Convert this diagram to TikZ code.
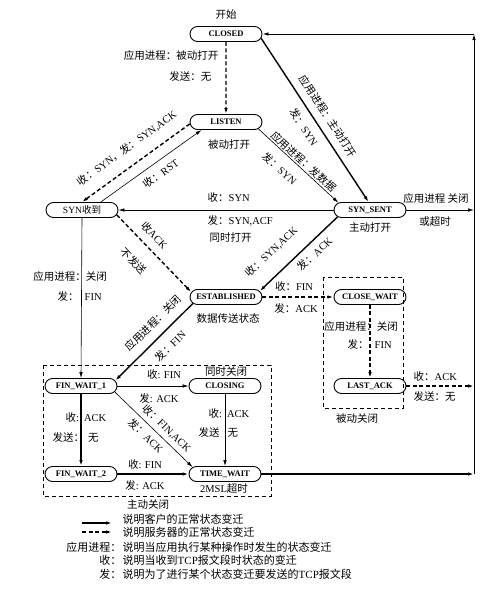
\documentclass[tikz,border=0pt]{standalone}
\usepackage{fontspec}
\setmainfont{Liberation Serif}
\newfontfamily\cjk{Noto Sans CJK SC}
\usetikzlibrary{shapes.misc,arrows.meta}
\newcommand\zh[1]{{\cjk #1}}
\begin{document}
\begin{tikzpicture}[x=1pt,y=-1pt,
  st/.style={draw, rounded rectangle, minimum width=64pt, minimum height=15pt, inner xsep=-4pt, inner ysep=1pt, line width=0.9pt, font=\bfseries\fontsize{8.5}{9}\selectfont},
  lbl/.style={font=\fontsize{10.5}{12}\selectfont, inner sep=0.5pt},
  lg/.style={font=\fontsize{11}{13}\selectfont, inner sep=0.5pt},
  tip/.style={-{Latex[length=6pt,width=3.5pt]}},
  thinl/.style={tip, line width=0.6pt},
  thickl/.style={tip, line width=1.4pt},
  dashl/.style={tip, line width=1.4pt, dash pattern=on 4pt off 2.5pt},
  dbox/.style={draw, line width=0.8pt, dash pattern=on 4pt off 3pt},
]
\useasboundingbox (0,0) rectangle (500,597);
\fill[white] (0,0) rectangle (500,597);

% states
\node[st] (CLOSED) at (226,34) {CLOSED};
\node[st] (LISTEN) at (226,122) {LISTEN};
\node[st, font=\fontsize{9.5}{10}\selectfont] (SYNR) at (82,210) {SYN\zh{收到}};
\node[st] (SYNS) at (370,210) {SYN\_SENT};
\node[st] (EST) at (226,297) {ESTABLISHED};
\node[st] (CW) at (370,297) {CLOSE\_WAIT};
\node[st] (LA) at (370,386) {LAST\_ACK};
\node[st] (FW1) at (81,386) {FIN\_WAIT\_1};
\node[st] (CLG) at (225,386) {CLOSING};
\node[st] (FW2) at (81,474) {FIN\_WAIT\_2};
\node[st] (TW) at (225,474) {TIME\_WAIT};

% dashed boxes
\draw[dbox] (43,365) rectangle (271,496);
\draw[dbox] (323,277) rectangle (403,408);

% right border line points
\coordinate (r1) at (474,210);
\coordinate (r2) at (474,386);
\coordinate (r3) at (474,474);
\coordinate (rt) at (474,34);

% captions
\node[lbl] (start) at (226,15) {\zh{开始}};
\node[lbl, anchor=east] (lc1) at (219,56) {\zh{应用进程：被动打开}};
\node[lbl, anchor=east] (lc2) at (212,77) {\zh{发送：无}};
\node[lbl] (lsub) at (229,145) {\zh{被动打开}};
\node[lbl] (ssub) at (370,228) {\zh{主动打开}};
\node[lbl, anchor=west] (l6a) at (207,198) {\zh{收：}SYN};
\node[lbl, anchor=west] (l6b) at (207,221) {\zh{发：}SYN,ACF};
\node[lbl, anchor=west] (l6c) at (209,238) {\zh{同时打开}};
\node[lbl] (l19a) at (436,199) {\zh{应用进程 关闭}};
\node[lbl] (l19b) at (435,222) {\zh{或超时}};
\node[lbl] (esub) at (228,319) {\zh{数据传送状态}};
\node[lbl] (l9a) at (294,287) {\zh{收：}FIN};
\node[lbl] (l9b) at (296,309) {\zh{发：}ACK};
\node[lbl] (l11a) at (361,327) {\zh{应用进程：关闭}};
\node[lbl, anchor=west] (l11b) at (347,345) {\zh{发：}\hspace{6pt}FIN};
\node[lbl, anchor=west] (l18a) at (413,377) {\zh{收：}ACK};
\node[lbl, anchor=west] (l18b) at (413,397) {\zh{发送：无}};
\node[lbl] (pclose) at (357,419) {\zh{被动关闭}};
\node[lbl] (ls1) at (70,277) {\zh{应用进程：关闭}};
\node[lbl, anchor=west] (ls2) at (57,297) {\zh{发：}\hspace{6pt}FIN};
\node[lbl] (simcl) at (226,372) {\zh{同时关闭}};
\node[lbl] (l12a) at (164,375) {\zh{收}: FIN};
\node[lbl] (l12b) at (159,398) {\zh{发}: ACK};
\node[lbl, anchor=west] (l13a) at (65,418) {\zh{收}:\hspace{5pt}ACK};
\node[lbl, anchor=west] (l13b) at (52,437) {\zh{发送：}\hspace{4pt}\zh{无}};
\node[lbl, anchor=west] (l15a) at (208,414) {\zh{收}:\hspace{5pt}ACK};
\node[lbl, anchor=west] (l15b) at (198,432) {\zh{发送}\hspace{8pt}\zh{无}};
\node[lbl] (l16a) at (145,465) {\zh{收}: FIN};
\node[lbl] (l16b) at (145,485) {\zh{发}: ACK};
\node[lbl] (msl) at (224,489) {2MSL\zh{超时}};
\node[lbl] (aclose) at (148,505) {\zh{主动关闭}};

% transitions
\draw[dashl] (CLOSED) -- (LISTEN);
\draw[thickl] (CLOSED.-7) -- node[lbl,sloped,pos=0.52,above=7pt]{\zh{应用进程：主动打开}} node[lbl,sloped,pos=0.5,below=7pt]{\zh{发：}SYN} (SYNS.100);
\draw[thinl] (LISTEN.-12) -- node[lbl,sloped,pos=0.51,above=1pt]{\zh{应用进程：发数据}} node[lbl,sloped,pos=0.39,below=9pt]{\zh{发：}SYN} (SYNS.167);
\draw[dashl] (LISTEN.183) -- node[lbl,sloped,pos=0.49,above=11pt]{\zh{收：}SYN\zh{，发：}SYN,ACK} (SYNR.north);
\draw[thinl] (SYNR.23) -- node[lbl,sloped,pos=0.53,below=6pt]{\zh{收：}RST} (LISTEN.198);
\draw[thinl] (SYNS.west) -- (SYNR.east);
\draw[dashl] (SYNR.-8) -- node[lbl,sloped,pos=0.38,above=7pt]{\zh{收}ACK} node[lbl,sloped,pos=0.42,below=14pt]{\zh{不发送}} (EST.172);
\draw[thickl] (SYNS.192) -- node[lbl,sloped,pos=0.67,above=14pt]{\zh{收：}SYN,ACK} node[lbl,sloped,pos=0.39,below=5pt]{\zh{发：}ACK} (EST.10);
\draw[dashl] (EST.east) -- (CW.west);
\draw[thickl] (EST.191) -- node[lbl,sloped,pos=0.385,above=8pt]{\zh{应用进程：关闭}} node[lbl,sloped,pos=0.42,below=8pt]{\zh{发：}FIN} (FW1.9);
\draw[dashl] (CW.south) -- (LA.north);
\draw[thinl] (SYNR.south) -- (FW1.north);
\draw[thinl] (FW1.east) -- (CLG.west);
\draw[thickl] (FW1.south) -- (FW2.north);
\draw[thinl] (FW1.-10) -- node[lbl,sloped,pos=0.58,above=4pt]{\zh{收：}FIN,ACK} node[lbl,sloped,pos=0.49,below=4pt]{\zh{发：}ACK} (TW.168);
\draw[thinl] (CLG.south) -- (TW.north);
\draw[thickl] (FW2.east) -- (TW.west);
\draw[thickl] (TW.east) -- (r3);
\draw[dashl] (LA.east) -- (r2);
\draw[thinl] (SYNS.east) -- (r1);
\draw[tip, line width=0.9pt] (r3) -- (rt);
\draw[tip, line width=0.9pt] (rt) -- (CLOSED.east);

% legend
\coordinate (lg1a) at (82,523);
\coordinate (lg1b) at (112,523);
\coordinate (lg2a) at (82,532);
\coordinate (lg2b) at (112,532);
\draw[thickl] (lg1a) -- (lg1b);
\draw[dashl] (lg2a) -- (lg2b);
\node[lg, anchor=west] (lt1) at (122,519) {\zh{说明客户的正常状态变迁}};
\node[lg, anchor=west] (lt2) at (122,532) {\zh{说明服务器的正常状态变迁}};
\node[lg, anchor=east] (lk3) at (122,547) {\zh{应用进程：}};
\node[lg, anchor=west] (lt3) at (122,547) {\zh{说明当应用执行某种操作时发生的状态变迁}};
\node[lg, anchor=east] (lk4) at (122,560) {\zh{收：}};
\node[lg, anchor=west] (lt4) at (122,560) {\zh{说明当收到}TCP\zh{报文段时状态的变迁}};
\node[lg, anchor=east] (lk5) at (122,574) {\zh{发：}};
\node[lg, anchor=west] (lt5) at (122,574) {\zh{说明为了进行某个状态变迁要发送的}TCP\zh{报文段}};
\end{tikzpicture}
\end{document}
